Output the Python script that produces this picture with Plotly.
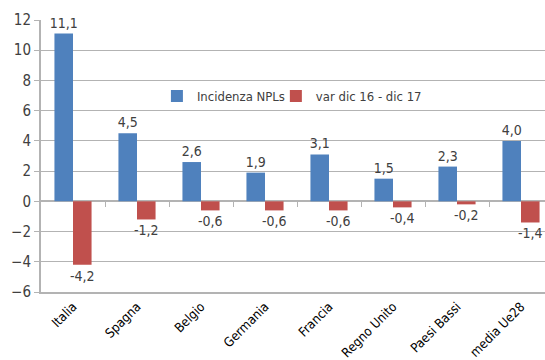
import plotly.graph_objects as go

paesi = ["Italia", "Spagna", "Belgio", "Germania", "Francia", "Regno Unito", "Paesi Bassi", "media Ue28"]
incidenza_npl = [11.1, 4.5, 2.6, 1.9, 3.1, 1.5, 2.3, 4.0]
var_dic16_dic17 = [-4.2, -1.2, -0.6, -0.6, -0.6, -0.4, -0.2, -1.4]

FONT = "DejaVu Sans Condensed, Liberation Sans, Arial, sans-serif"
TXT = "#404040"
GRID = "#b3b3b3"

y_min, y_max = -6, 12
xpos = list(range(len(paesi)))

fig = go.Figure()
fig.add_trace(go.Bar(
    x=xpos, y=incidenza_npl, name="Incidenza NPLs", legend="legend",
    marker=dict(color="#4F81BD", line=dict(width=0)),
    texttemplate="%{y:.1f}", textposition="outside", constraintext="none",
    textfont=dict(family=FONT, size=14, color=TXT), cliponaxis=False,
))
fig.add_trace(go.Bar(
    x=xpos, y=var_dic16_dic17, name="var dic 16 - dic 17", legend="legend2",
    marker=dict(color="#C0504D", line=dict(width=0)),
    texttemplate="%{y:.1f}", textposition="outside", constraintext="none",
    textfont=dict(family=FONT, size=14, color=TXT), cliponaxis=False,
))
# tick marks between categories along the zero line
fig.add_trace(go.Scatter(x=[0], y=[0], xaxis="x2", showlegend=False,
                         mode="markers", marker=dict(opacity=0), hoverinfo="skip"))

legend_style = dict(orientation="h", y=0.72, xanchor="left", yanchor="middle",
                    font=dict(family=FONT, size=13, color=TXT),
                    itemwidth=30, bgcolor="rgba(0,0,0,0)")

xr = [-0.5, 7.375]
fig.update_layout(
    width=545, height=360,
    margin=dict(l=41, r=0, t=20, b=68),
    paper_bgcolor="white", plot_bgcolor="white",
    separators=",.",
    barmode="group", bargap=0.42, bargroupgap=0,
    font=dict(family=FONT, color=TXT),
    legend=dict(x=0.230, **legend_style),
    legend2=dict(x=0.466, **legend_style),
    xaxis=dict(range=xr, tickvals=xpos, ticktext=paesi, tickangle=-45,
               showgrid=False, zeroline=False, ticks="", automargin=False,
               showline=True, linecolor=GRID, linewidth=2,
               tickfont=dict(family=FONT, size=13, color="black")),
    xaxis2=dict(range=xr, overlaying="x", anchor="free", automargin=False,
                position=(0 - y_min) / (y_max - y_min),
                tickvals=[i + 0.5 for i in xpos[:-1]], ticks="outside",
                ticklen=5, tickcolor=GRID, tickwidth=1,
                showticklabels=False, showline=False, showgrid=False, zeroline=False),
    yaxis=dict(range=[y_min, y_max], dtick=2, showgrid=True, gridcolor=GRID, gridwidth=1,
               zeroline=True, zerolinecolor=GRID, zerolinewidth=1.5, automargin=False,
               showline=True, linecolor=GRID, linewidth=2,
               ticks="outside", ticklen=5, tickcolor=GRID,
               tickfont=dict(family=FONT, size=15, color=TXT)),
)

fig.write_html("out.html")
